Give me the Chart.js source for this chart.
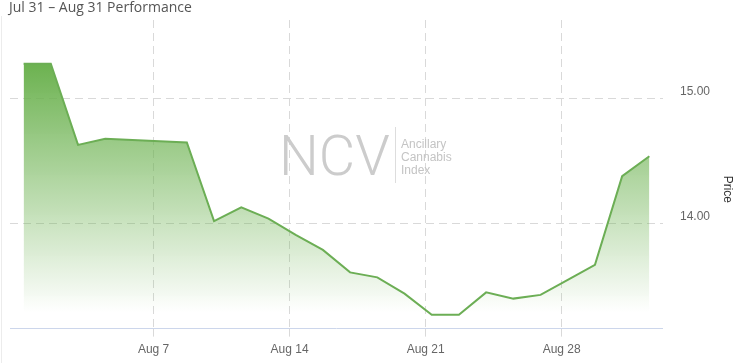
<!DOCTYPE html>
<html>
<head>
<meta charset="utf-8">
<title>NCV Performance</title>
<script src="https://cdn.jsdelivr.net/npm/chart.js@4.4.0/dist/chart.umd.min.js"></script>
<style>
    html, body { margin: 0; padding: 0; background: #fff; }
    #wrap { position: relative; width: 738px; height: 363px; }
    #edge { position: absolute; left: 1px; top: 16px; bottom: 0; width: 1px; background: #ececec; }
</style>
</head>
<body>
<div id="wrap">
    <canvas id="myChart" width="738" height="363"></canvas>
    <div id="edge"></div>
</div>
<script>
// trading days, Jul 31 - Aug 31 (closing prices)
var days = [
    '2017-07-31', '2017-08-01', '2017-08-02', '2017-08-03', '2017-08-04',
    '2017-08-07', '2017-08-08', '2017-08-09', '2017-08-10', '2017-08-11',
    '2017-08-14', '2017-08-15', '2017-08-16', '2017-08-17', '2017-08-18',
    '2017-08-21', '2017-08-22', '2017-08-23', '2017-08-24', '2017-08-25',
    '2017-08-28', '2017-08-29', '2017-08-30', '2017-08-31'
];
var prices = [
    15.28, 15.28, 14.63, 14.68, 14.67,
    14.66, 14.65, 14.02, 14.13, 14.04,
    13.91, 13.79, 13.61, 13.57, 13.44,
    13.27, 13.27, 13.45, 13.40, 13.43,
    13.55, 13.67, 14.38, 14.54
];
var tickDays = ['2017-08-07', '2017-08-14', '2017-08-21', '2017-08-28'];
var tickLabels = ['Aug 7', 'Aug 14', 'Aug 21', 'Aug 28'];
var priceTicks = [14, 15];

var lineColor = '#6cae55';
var gridColor = '#d9d9d9';

// ordinal axis: points sit at the close, ticks at midnight between two closes
function closeTime(d) { return Date.parse(d + 'T16:00:00Z'); }
function dayTime(d) { return Date.parse(d + 'T00:00:00Z'); }
var tickPositions = tickDays.map(function (d) {
    var t = dayTime(d);
    for (var i = 0; i < days.length - 1; i++) {
        var a = closeTime(days[i]), b = closeTime(days[i + 1]);
        if (t >= a && t <= b) return i + (t - a) / (b - a);
    }
    return null;
});

var watermark = {
    id: 'watermark',
    beforeDatasetsDraw: function (chart) {
        var c = chart.ctx;
        c.save();
        c.fillStyle = '#cccccc';
        c.font = '300 56px Roboto';
        c.textBaseline = 'alphabetic';
        c.fillText('NCV', 279, 175);
        c.strokeStyle = '#dddddd';
        c.lineWidth = 1;
        c.beginPath();
        c.moveTo(395.5, 127);
        c.lineTo(395.5, 183);
        c.stroke();
        c.fillStyle = '#c4c4c4';
        c.font = '12px "Liberation Sans"';
        c.textBaseline = 'middle';
        ['Ancillary', 'Cannabis', 'Index'].forEach(function (t, i) {
            c.fillText(t, 401, 145 + i * 13);
        });
        c.restore();
    }
};

// chart heading and the rotated "Price" axis title
var labels = {
    id: 'labels',
    afterDraw: function (chart) {
        var c = chart.ctx, area = chart.chartArea;
        c.save();
        c.fillStyle = '#555';
        c.font = '14px "Open Sans"';
        c.textBaseline = 'middle';
        c.fillText('Jul 31 \u2013 Aug 31 Performance', 9, 8);
        c.translate(chart.width - 11, (area.top + area.bottom) / 2 + 15);
        c.rotate(Math.PI / 2);
        c.textAlign = 'center';
        c.fillStyle = '#333';
        c.font = '12px "Liberation Sans"';
        c.fillText('Price', 0, 0);
        c.restore();
    }
};

Chart.defaults.font.family = '"Liberation Sans", Arial, sans-serif';

var ctx = document.getElementById('myChart').getContext('2d');
var myChart = new Chart(ctx, {
    type: 'line',
    data: {
        datasets: [{
            data: prices.map(function (p, i) { return { x: i, y: p }; }),
            borderColor: lineColor,
            borderWidth: 2,
            pointRadius: 0,
            tension: 0,
            fill: 'start',
            backgroundColor: function (context) {
                var chart = context.chart;
                var area = chart.chartArea;
                if (!area) return 'rgba(108,178,80,0.5)';
                var top = chart.scales.y.getPixelForValue(Math.max.apply(null, prices));
                var g = chart.ctx.createLinearGradient(0, top, 0, area.bottom - 16);
                g.addColorStop(0, 'rgba(108,178,80,1)');
                g.addColorStop(1, 'rgba(108,178,80,0)');
                return g;
            }
        }]
    },
    options: {
        responsive: false,
        animation: false,
        layout: { padding: { left: 10, right: 11, top: 20, bottom: 0 } },
        plugins: {
            legend: { display: false },
            tooltip: { enabled: false },
            title: { display: false }
        },
        scales: {
            x: {
                type: 'linear',
                min: -0.5,
                max: days.length - 0.5,
                afterBuildTicks: function (scale) {
                    scale.ticks = tickPositions.map(function (v) { return { value: v }; });
                },
                ticks: {
                    autoSkip: false,
                    maxRotation: 0,
                    padding: 6,
                    color: '#666',
                    font: { size: 12 },
                    callback: function (value, index) { return tickLabels[index]; }
                },
                grid: { color: gridColor, tickColor: gridColor, tickLength: 8, tickBorderDash: [8, 5] },
                border: { display: true, color: '#ccd6eb', dash: [8, 5] }
            },
            y: {
                position: 'right',
                min: 13.16,
                max: 15.63,
                afterBuildTicks: function (scale) {
                    scale.ticks = priceTicks.map(function (v) { return { value: v }; });
                },
                afterFit: function (scale) {
                    scale.paddingTop = 0;
                    scale.paddingBottom = 0;
                },
                ticks: {
                    padding: 17,
                    labelOffset: -7,
                    color: '#666',
                    font: { size: 12 },
                    callback: function (value) { return value.toFixed(2); }
                },
                grid: { color: gridColor, drawTicks: false },
                border: { display: false, dash: [8, 5] }
            }
        }
    },
    plugins: [watermark, labels]
});
</script>
</body>
</html>
